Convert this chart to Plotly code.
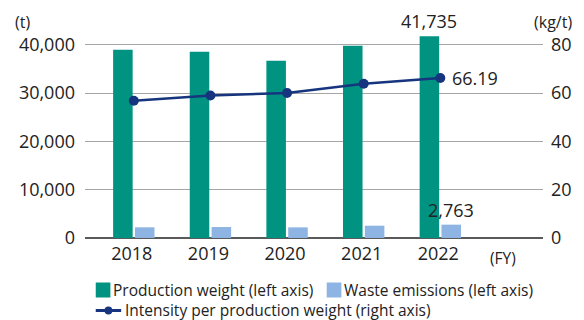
import plotly.graph_objects as go

years = [2018, 2019, 2020, 2021, 2022]
year_labels = ["2018", "2019", "2020", "2021", "2022"]
production = [38950, 38550, 36650, 39800, 41735]
waste = [2210, 2270, 2200, 2540, 2763]
intensity = [56.8, 59.0, 60.0, 63.8, 66.19]
left_ticks = [0, 10000, 20000, 30000, 40000]
left_tick_text = ["0", "10,000", "20,000", "30,000", "40,000"]
right_ticks = [0, 20, 40, 60, 80]
series_names = ["Production weight (left axis)", "Waste emissions (left axis)",
                "Intensity per production weight (right axis)"]

TEAL = "#009382"
LBLUE = "#8DB4E2"
NAVY = "#16357E"
TXT = "#222222"
FONT = "Open Sans"

W, H = 584, 320
ML, MR, MT, MB = 85, 30, 35, 82
PW, PH = W - ML - MR, H - MT - MB


def px(xp):
    return (xp - ML) / PW


def py(yp):
    return (H - MB - yp) / PH


fig = go.Figure()
fig.add_trace(go.Bar(x=years, y=production, name=series_names[0],
                     marker=dict(color=TEAL, line=dict(width=0)), width=0.255, offset=-0.27))
fig.add_trace(go.Bar(x=years, y=waste, name=series_names[1],
                     marker=dict(color=LBLUE, line=dict(width=0)), width=0.255, offset=0.015))
fig.add_trace(go.Scatter(x=years, y=intensity, name=series_names[2],
                         mode="lines+markers", yaxis="y2",
                         line=dict(color=NAVY, width=2.5),
                         marker=dict(color=NAVY, size=10)))

fig.update_layout(
    width=W, height=H,
    margin=dict(l=ML, r=MR, t=MT, b=MB),
    paper_bgcolor="white", plot_bgcolor="white",
    barmode="overlay",
    font=dict(family=FONT, color=TXT, size=16),
    showlegend=False,
    xaxis=dict(range=[2017.363, 2023.34], tickvals=years, ticktext=year_labels,
               showgrid=False, zeroline=False, showline=False, ticks="",
               tickfont=dict(size=18, color=TXT), ticklabelstandoff=3,
               ticklabelshift=-2),
    yaxis=dict(range=[0, 42000], tickvals=left_ticks, ticktext=left_tick_text,
               showgrid=True, gridcolor="#A6A6A6", gridwidth=1,
               zeroline=True, zerolinecolor="#5A5A5A", zerolinewidth=1.5,
               showline=False, ticks="", ticklabelstandoff=9,
               tickfont=dict(size=18, color=TXT)),
    yaxis2=dict(range=[0, 84], tickvals=right_ticks, overlaying="y", side="right",
                showgrid=False, zeroline=False, showline=False, ticks="",
                ticklabelstandoff=7, tickfont=dict(size=18, color=TXT)),
)

annos = [
    dict(x=years[4] - 0.1425, y=production[4], xref="x", yref="y", text="41,735",
         showarrow=False, yanchor="bottom", yshift=1, font=dict(size=18)),
    dict(x=years[4], y=intensity[4], xref="x", yref="y2", text="66.19",
         showarrow=False, xanchor="left", xshift=10, font=dict(size=18)),
    dict(x=years[4] + 0.1425, y=waste[4], xref="x", yref="y", text="2,763",
         showarrow=False, yanchor="bottom", yshift=1, font=dict(size=18)),
    dict(x=px(20.5), y=py(21.7), xref="paper", yref="paper", text="(t)", showarrow=False,
         xanchor="center", yanchor="middle", font=dict(size=16)),
    dict(x=px(564.5), y=py(21.7), xref="paper", yref="paper", text="(kg/t)", showarrow=False,
         xanchor="center", yanchor="middle", font=dict(size=16)),
    dict(x=px(513), y=py(257.5), xref="paper", yref="paper", text="(FY)", showarrow=False,
         xanchor="center", yanchor="middle", font=dict(size=15.5)),
]

# manual legend
LEG_FONT = dict(size=15.5, color=TXT)
shapes = [
    dict(type="rect", xref="paper", yref="paper", x0=px(96), x1=px(111), y0=py(297.5), y1=py(282.5),
         fillcolor=TEAL, line=dict(width=0)),
    dict(type="rect", xref="paper", yref="paper", x0=px(332.5), x1=px(347.5), y0=py(297.5), y1=py(282.5),
         fillcolor=LBLUE, line=dict(width=0)),
    dict(type="line", xref="paper", yref="paper", x0=px(96), x1=px(122), y0=py(310.5), y1=py(310.5),
         line=dict(color=NAVY, width=3)),
    dict(type="circle", xref="paper", yref="paper", x0=px(105), x1=px(113), y0=py(314.5), y1=py(306.5),
         fillcolor=NAVY, line=dict(width=0)),
]
annos += [
    dict(x=px(111.5), y=py(290), xref="paper", yref="paper", text=series_names[0], showarrow=False,
         xanchor="left", yanchor="middle", font=LEG_FONT),
    dict(x=px(348.5), y=py(290), xref="paper", yref="paper", text=series_names[1], showarrow=False,
         xanchor="left", yanchor="middle", font=LEG_FONT),
    dict(x=px(123.5), y=py(309.5), xref="paper", yref="paper", text=series_names[2], showarrow=False,
         xanchor="left", yanchor="middle", font=LEG_FONT),
]
fig.update_layout(annotations=annos, shapes=shapes)

fig.write_html("out.html")
